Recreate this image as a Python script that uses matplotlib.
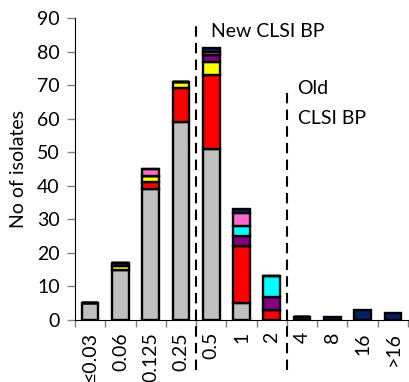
import matplotlib
matplotlib.use('Agg')

import numpy as np
import matplotlib.pyplot as plt

# MIC categories
mics = ['\u22640.03', '0.06', '0.125', '0.25', '0.5', '1', '2', '4', '8', '16', '>16']

# isolate counts per group, stacked bottom to top
grey = [5, 15, 39, 59, 51, 5, 0, 0, 0, 0, 0]
red = [0, 0, 2, 10, 22, 17, 3, 1, 0, 0, 0]
yellow = [0, 1, 2, 2, 4, 0, 0, 0, 0, 0, 0]
purple = [0, 1, 0, 0, 2, 3, 4, 0, 0, 0, 0]
cyan = [0, 0, 0, 0, 0, 3, 6, 0, 0, 0, 0]
pink = [0, 0, 2, 0, 1, 4, 0, 0, 0, 0, 0]
navy = [0, 0, 0, 0, 1, 1, 0, 0, 1, 3, 2]

series = [grey, red, yellow, purple, cyan, pink, navy]
colors = ['#C0C0C0', '#FF0000', '#FFFF00', '#800080', '#00FFFF', '#FF66CC', '#002060']

# breakpoints sit between categories
new_bp = 3.5
old_bp = 6.5

plt.rcParams['font.family'] = ['Lato', 'DejaVu Sans']
fs = 14

fig = plt.figure(figsize=(4.09, 3.82), dpi=100)
ax = fig.add_axes([75 / 409, 62 / 382, 333 / 409, 302 / 382])

x = np.arange(len(mics))
bottom = np.zeros(len(mics))
for vals, col in zip(series, colors):
    vals = np.array(vals, dtype=float)
    ax.bar(x, vals, width=0.55, bottom=bottom, color=col,
           edgecolor='black', linewidth=1.7, zorder=3)
    bottom += vals

ax.set_xlim(-0.5, len(mics) - 0.5)
ax.set_ylim(0, 90)
ax.set_yticks(range(0, 91, 10))
ax.tick_params(axis='y', labelsize=fs, length=6, width=1, direction='out',
               color='#808080', pad=5)

# ticks on category boundaries, labels at centres
ax.set_xticks(np.arange(-0.5, len(mics), 1.0))
ax.set_xticklabels([])
ax.tick_params(axis='x', length=5, width=1, direction='out', color='#808080')
for xi, lab in zip(x, mics):
    ax.text(xi, -3.6, lab, rotation=90, ha='center', va='top', fontsize=fs)

for side in ['top', 'right']:
    ax.spines[side].set_visible(False)

ax.set_ylabel('No of isolates', fontsize=fs, labelpad=7)

# breakpoint markers
ax.plot([new_bp, new_bp], [-15, 88], color='black', linestyle=(0, (5, 3)),
        linewidth=1.5, clip_on=False, zorder=4)
ax.plot([old_bp, old_bp], [-15, 68.5], color='black', linestyle=(0, (5, 3)),
        linewidth=1.5, clip_on=False, zorder=4)
ax.text(new_bp + 0.5, 86, 'New CLSI BP', fontsize=fs, va='center', ha='left')
ax.text(old_bp + 0.35, 69, 'Old', fontsize=fs, va='center', ha='left')
ax.text(old_bp + 0.35, 60, 'CLSI BP', fontsize=fs, va='center', ha='left')

plt.savefig('out.png', dpi=100)
